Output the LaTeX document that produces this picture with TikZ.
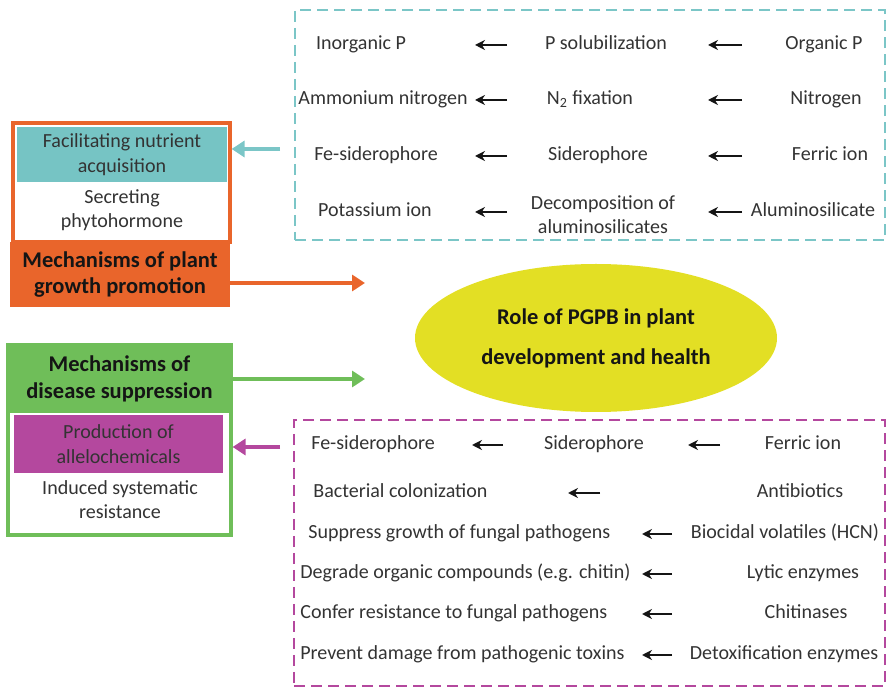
\documentclass[tikz,border=0pt]{standalone}
\usepackage{fontspec}
\setmainfont{Carlito}
\usepackage{xcolor}
\definecolor{TealLine}{HTML}{7BC6C7}
\definecolor{TealFill}{HTML}{76C4C4}
\definecolor{OrangeMain}{HTML}{E9652B}
\definecolor{GreenMain}{HTML}{6FBE59}
\definecolor{MagentaMain}{HTML}{B4489E}
\definecolor{YellowCore}{HTML}{E3DF24}
\definecolor{TextBody}{HTML}{333333}
\definecolor{TextDark}{HTML}{151515}
\usepackage{tikz}
\usetikzlibrary{shapes.geometric,positioning,arrows.meta}

\begin{document}
\begin{tikzpicture}[
  txt/.style={inner sep=0pt, text=TextBody, font=\fontsize{11.4}{14}\selectfont,
              text height=1.55ex, text depth=0.45ex},
  txtml/.style={inner sep=0pt, text=TextBody, font=\fontsize{11.4}{14}\selectfont, align=center},
  head/.style={rectangle, inner sep=0pt, text=TextDark, font=\fontsize{12.8}{15}\selectfont\bfseries,
               align=center},
  frame/.style={rectangle, inner sep=0pt, line width=1.8pt, fill=white},
  band/.style={rectangle, inner sep=0pt, text=TextBody, font=\fontsize{11.4}{14}\selectfont, align=center},
  panel/.style={rectangle, inner sep=0pt, line width=1.5pt, dash pattern=on 0.22cm off 0.12cm},
  arr/.style={-{Stealth[length=2mm,width=2mm]}, line width=1.1pt, color=TextDark},
  carr/.style={-{Triangle[length=2.6mm,width=3.2mm]}, line width=2pt},
]
  \useasboundingbox (0,0) rectangle (17.78,-13.78);

  % Growth promotion block
  \node[frame, draw=OrangeMain, minimum width=4.34cm, minimum height=2.38cm] (growthframe) at (2.43,-3.65) {};
  \node[band, fill=TealFill, minimum width=4.2cm, minimum height=1.1cm] (acq) at (2.44,-3.09) {Facilitating nutrient\\acquisition};
  \node[txtml] (phyto) at (2.44,-4.2) {Secreting\\phytohormone};
  \node[head, fill=OrangeMain, minimum width=4.4cm, minimum height=1.3cm] (growth) at (2.4,-5.49) {Mechanisms of plant\\growth promotion};

  % Disease suppression block
  \node[frame, draw=GreenMain, minimum width=4.46cm, minimum height=3.8cm] (diseaseframe) at (2.39,-8.8) {};
  \node[head, fill=GreenMain, minimum width=4.46cm, minimum height=1.36cm] (disease) at (2.39,-7.58) {Mechanisms of\\disease suppression};
  \node[band, fill=MagentaMain, minimum width=4.18cm, minimum height=1.16cm] (allelo) at (2.37,-8.88) {Production of\\allelochemicals};
  \node[txtml] (isr) at (2.4,-9.99) {Induced systematic\\resistance};

  % Centre
  \node[ellipse, fill=YellowCore, inner sep=0pt, minimum width=7.24cm, minimum height=2.96cm,
        text=TextDark, font=\fontsize{12.8}{22.8}\selectfont\bfseries, align=center] (core) at (11.92,-6.76)
        {Role of PGPB in plant\\development and health};

  % Nutrient panel
  \node[panel, draw=TealLine, minimum width=11.8cm, minimum height=4.6cm] (nutrpanel) at (11.8,-2.5) {};
  \node[txt] (inorgP) at (7.22,-0.9) {Inorganic P};
  \node[txt] (psol) at (12.12,-0.9) {P solubilization};
  \node[txt] (orgP) at (16.48,-0.9) {Organic P};
  \node[txt] (ammon) at (7.66,-2.0) {Ammonium nitrogen};
  \node[txt] (nfix) at (11.8,-2.0) {N\textsubscript{2} fixation};
  \node[txt] (nitro) at (16.52,-2.0) {Nitrogen};
  \node[txt] (feside) at (7.52,-3.12) {Fe-siderophore};
  \node[txt] (sidero) at (11.96,-3.12) {Siderophore};
  \node[txt] (ferric) at (16.6,-3.12) {Ferric ion};
  \node[txt] (potas) at (7.5,-4.24) {Potassium ion};
  \node[txtml] (decomp) at (12.06,-4.29) {Decomposition of\\aluminosilicates};
  \node[txt] (alumino) at (16.26,-4.24) {Aluminosilicate};

  % Defence panel
  \node[panel, draw=MagentaMain, minimum width=11.82cm, minimum height=5.32cm] (defpanel) at (11.79,-11.06) {};
  \node[txt, anchor=west] (fesideB) at (6.22,-8.9) {Fe-siderophore};
  \node[txt] (sideroB) at (11.88,-8.9) {Siderophore};
  \node[txt] (ferricB) at (16.06,-8.9) {Ferric ion};
  \node[txt, anchor=west] (bactcol) at (6.26,-9.86) {Bacterial colonization};
  \node[txt] (antibio) at (16.0,-9.86) {Antibiotics};
  \node[txt, anchor=west] (suppress) at (6.16,-10.68) {Suppress growth of fungal pathogens};
  \node[txt] (biocid) at (15.7,-10.68) {Biocidal volatiles (HCN)};
  \node[txt, anchor=west] (degrade) at (6.0,-11.48) {Degrade organic compounds (e.g. chitin)};
  \node[txt] (lytic) at (16.06,-11.48) {Lytic enzymes};
  \node[txt, anchor=west] (confer) at (6.0,-12.28) {Confer resistance to fungal pathogens};
  \node[txt] (chitin) at (16.12,-12.28) {Chitinases};
  \node[txt, anchor=west] (prevent) at (6.0,-13.1) {Prevent damage from pathogenic toxins};
  \node[txt] (detox) at (15.68,-13.1) {Detoxification enzymes};

  % Arrow columns
  \coordinate (ta1) at (10.14,0); \coordinate (tb1) at (9.5,0);
  \coordinate (ta2) at (14.84,0); \coordinate (tb2) at (14.16,0);
  \coordinate (ba1) at (10.06,0); \coordinate (bb1) at (9.44,0);
  \coordinate (ba2) at (14.4,0);  \coordinate (bb2) at (13.76,0);
  \coordinate (ba3) at (12.0,0);  \coordinate (bb3) at (11.36,0);
  \coordinate (ba4) at (13.44,0); \coordinate (bb4) at (12.84,0);
  \coordinate (growthtip) at (7.3,-5.66);
  \coordinate (diseasetip) at (7.3,-7.58);
  \coordinate (nutrtail) at (5.6,-2.98);
  \coordinate (alleltail) at (5.6,-8.94);

  % Arrows
  \draw[arr] (inorgP -| ta1) -- (inorgP -| tb1);
  \draw[arr] (orgP -| ta2) -- (orgP -| tb2);
  \draw[arr] (ammon -| ta1) -- (ammon -| tb1);
  \draw[arr] (nitro -| ta2) -- (nitro -| tb2);
  \draw[arr] (feside -| ta1) -- (feside -| tb1);
  \draw[arr] (ferric -| ta2) -- (ferric -| tb2);
  \draw[arr] (potas -| ta1) -- (potas -| tb1);
  \draw[arr] (alumino -| ta2) -- (alumino -| tb2);

  \draw[arr] (fesideB -| ba1) -- (fesideB -| bb1);
  \draw[arr] (ferricB -| ba2) -- (ferricB -| bb2);
  \draw[arr] (antibio -| ba3) -- (antibio -| bb3);
  \draw[arr] (biocid -| ba4) -- (biocid -| bb4);
  \draw[arr] (lytic -| ba4) -- (lytic -| bb4);
  \draw[arr] (chitin -| ba4) -- (chitin -| bb4);
  \draw[arr] (detox -| ba4) -- (detox -| bb4);

  \draw[carr, TealLine] (nutrtail) -- (growthframe.east |- nutrtail);
  \draw[carr, MagentaMain] (alleltail) -- (diseaseframe.east |- alleltail);
  \draw[carr, OrangeMain] (growth.east |- growthtip) -- (growthtip);
  \draw[carr, GreenMain] (disease.east) -- (diseasetip);
\end{tikzpicture}
\end{document}
